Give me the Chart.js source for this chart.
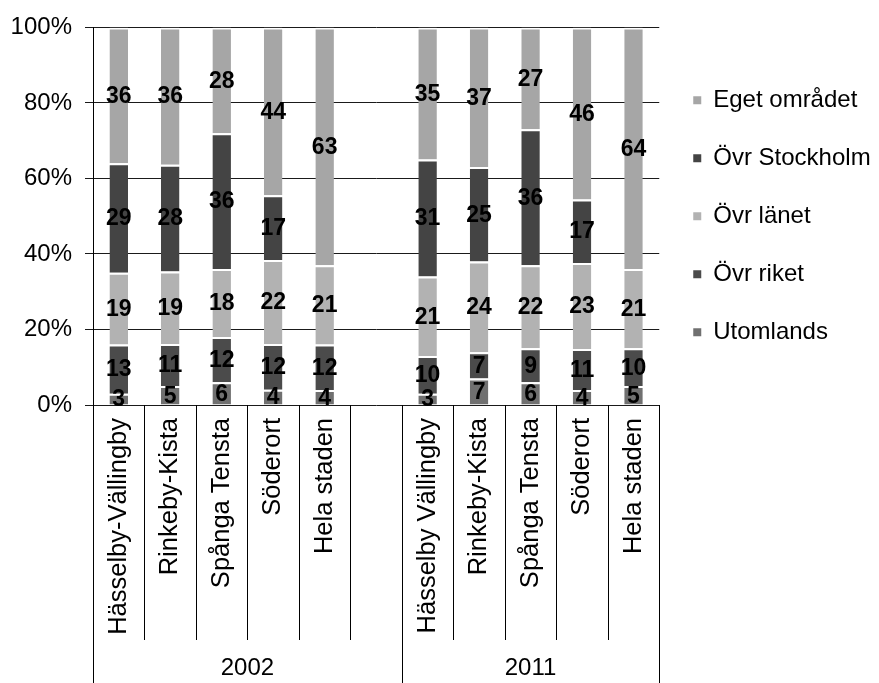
<!DOCTYPE html>
<html>
<head>
<meta charset="utf-8">
<script src="https://cdn.jsdelivr.net/npm/chart.js@4.4.1/dist/chart.umd.min.js"></script>
<style>
  html, body { margin: 0; padding: 0; background: #fff; }
</style>
</head>
<body>
<canvas id="chart" width="879" height="683"></canvas>
<script>
// categories along x; the empty slot separates the two years
const categories = ['Hässelby-Vällingby', 'Rinkeby-Kista', 'Spånga Tensta', 'Söderort', 'Hela staden', '',
                    'Hässelby Vällingby', 'Rinkeby-Kista', 'Spånga Tensta', 'Söderort', 'Hela staden'];
const groupLabels = ['2002', '2011'];
const groupStart = [0, 6];
const groupEnd = [5, 10];

// values as printed on the bars
const utomlands    = [3, 5, 6, 4, 4, null, 3, 7, 6, 4, 5];
const ovrRiket     = [13, 11, 12, 12, 12, null, 10, 7, 9, 11, 10];
const ovrLanet     = [19, 19, 18, 22, 21, null, 21, 24, 22, 23, 21];
const ovrStockholm = [29, 28, 36, 17, 0, null, 31, 25, 36, 17, 0];
const egetOmradet  = [36, 36, 28, 44, 63, null, 35, 37, 27, 46, 64];

const yTicks = [0, 20, 40, 60, 80, 100];

const FONT = '"Liberation Sans", Arial, sans-serif';

// 100% stacked: every column is scaled to its own total
const series = [utomlands, ovrRiket, ovrLanet, ovrStockholm, egetOmradet];
const totals = categories.map((c, i) => series.reduce((s, arr) => s + (arr[i] || 0), 0));
const share = arr => arr.map((v, i) => v === null ? null : v / totals[i] * 100);

function makeSet(label, raw, color) {
    return {
        label: label,
        data: share(raw),
        raw: raw,
        backgroundColor: color,
        borderColor: '#ffffff',
        borderWidth: { top: 2, bottom: 0, left: 0, right: 0 },
        borderSkipped: false,
        categoryPercentage: 1,
        barPercentage: 0.36
    };
}

const overlay = {
    id: 'overlay',
    afterDatasetsDraw(chart) {
        const ctx = chart.ctx;
        ctx.save();
        ctx.font = 'bold 23px ' + FONT;
        ctx.textAlign = 'center';
        ctx.textBaseline = 'middle';
        ctx.fillStyle = '#000';
        chart.data.datasets.forEach((ds, di) => {
            chart.getDatasetMeta(di).data.forEach((bar, i) => {
                const v = ds.raw[i];
                if (!v) return;
                const p = bar.getProps(['x', 'y', 'base'], true);
                ctx.fillText(String(v), p.x, (p.y + p.base) / 2 + 1);
            });
        });
        ctx.restore();
    },
    afterDraw(chart) {
        const ctx = chart.ctx;
        const x = chart.scales.x;
        const top = x.top;
        const innerBottom = 640;
        const bottom = chart.height;
        ctx.save();
        ctx.strokeStyle = '#000';
        ctx.lineWidth = 1;
        for (let i = 0; i <= categories.length; i++) {
            const px = Math.round(x.getPixelForValue(i - 0.5)) + 0.5;
            const isGroupEdge = groupStart.includes(i) || groupEnd.includes(i - 1);
            ctx.beginPath();
            ctx.moveTo(px, top);
            ctx.lineTo(px, isGroupEdge ? bottom : innerBottom);
            ctx.stroke();
        }
        ctx.font = '24px ' + FONT;
        ctx.fillStyle = '#000';
        ctx.textAlign = 'center';
        ctx.textBaseline = 'middle';
        groupLabels.forEach((g, k) => {
            const a = x.getPixelForValue(groupStart[k] - 0.5);
            const b = x.getPixelForValue(groupEnd[k] + 0.5);
            ctx.fillText(g, (a + b) / 2, 668);
        });
        ctx.restore();
    }
};

new Chart(document.getElementById('chart'), {
    type: 'bar',
    data: {
        labels: categories,
        datasets: [
            makeSet('Utomlands', utomlands, '#707070'),
            makeSet('Övr riket', ovrRiket, '#4b4b4b'),
            makeSet('Övr länet', ovrLanet, '#b2b2b2'),
            makeSet('Övr Stockholm', ovrStockholm, '#444444'),
            makeSet('Eget området', egetOmradet, '#a6a6a6')
        ]
    },
    options: {
        responsive: false,
        animation: false,
        layout: { padding: { top: 16, left: 0, right: 0, bottom: 0 } },
        scales: {
            x: {
                stacked: true,
                grid: { display: false, drawTicks: false },
                border: { display: false },
                ticks: {
                    color: '#000',
                    font: { size: 25.5, family: FONT },
                    minRotation: 90,
                    maxRotation: 90,
                    autoSkip: false,
                    padding: 13
                },
                afterFit(scale) { scale.height = 278; }
            },
            y: {
                stacked: true,
                min: 0,
                max: 100,
                afterBuildTicks(scale) { scale.ticks = yTicks.map(v => ({ value: v })); },
                grid: { color: '#1a1a1a', lineWidth: 1, tickLength: 8 },
                border: { display: true, color: '#000', width: 1 },
                ticks: {
                    color: '#000',
                    font: { size: 24, family: FONT },
                    padding: 13,
                    callback: v => v + '%'
                },
                afterFit(scale) { scale.width = 93; }
            }
        },
        plugins: {
            legend: {
                position: 'right',
                align: 'start',
                reverse: true,
                // empty title only pushes the items down to sit beside the plot
                title: { display: true, text: ' ', font: { size: 1 }, padding: { top: 37, bottom: 0 } },
                labels: {
                    color: '#000',
                    font: { size: 24, family: FONT },
                    boxWidth: 8,
                    boxHeight: 8,
                    padding: 34,
                    generateLabels: chart =>
                        Chart.defaults.plugins.legend.labels.generateLabels(chart)
                            .map(l => Object.assign(l, { lineWidth: 0 }))
                }
            },
            tooltip: { enabled: false }
        }
    },
    plugins: [overlay]
});
</script>
</body>
</html>
